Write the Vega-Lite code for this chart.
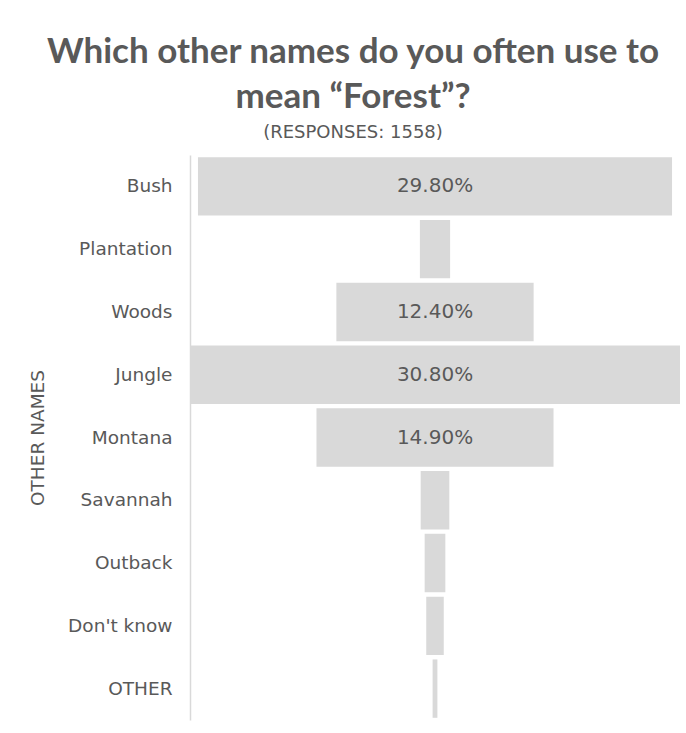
{
  "$schema": "https://vega.github.io/schema/vega-lite/v6.json",
  "width": 490,
  "height": 565,
  "autosize": {"type": "none"},
  "padding": {"left": 190, "top": 155, "right": 6, "bottom": 13},
  "background": "white",
  "title": {
    "text": ["Which other names do you often use to", "mean “Forest”?"],
    "subtitle": "(RESPONSES: 1558)",
    "font": "Lato",
    "fontSize": 35,
    "fontWeight": "bold",
    "color": "#595959",
    "lineHeight": 45,
    "subtitleFont": "DejaVu Sans",
    "subtitleFontSize": 18,
    "subtitleColor": "#595959",
    "subtitlePadding": 9,
    "anchor": "middle",
    "dx": -82,
    "offset": 13
  },
  "data": {
    "values": [
      {"name": "Bush", "share": 0.298},
      {"name": "Plantation", "share": 0.019},
      {"name": "Woods", "share": 0.124},
      {"name": "Jungle", "share": 0.308},
      {"name": "Montana", "share": 0.149},
      {"name": "Savannah", "share": 0.018},
      {"name": "Outback", "share": 0.013},
      {"name": "Don't know", "share": 0.011},
      {"name": "OTHER", "share": 0.003}
    ]
  },
  "encoding": {
    "y": {
      "field": "name",
      "type": "nominal",
      "sort": null,
      "scale": {"paddingInner": 0.07, "paddingOuter": 0.035},
      "axis": {
        "title": "OTHER NAMES",
        "titleFont": "DejaVu Sans",
        "titleFontSize": 18.5,
        "titleFontWeight": "normal",
        "titleColor": "#595959",
        "titlePadding": 20,
        "labelFont": "DejaVu Sans",
        "labelFontSize": 18.5,
        "labelColor": "#595959",
        "labelPadding": 18,
        "ticks": false,
        "domainColor": "#d9d9d9",
        "domainWidth": 1.5,
        "grid": false
      }
    }
  },
  "layer": [
    {
      "mark": {"type": "bar", "color": "#d9d9d9"},
      "encoding": {
        "x": {
          "field": "share",
          "type": "quantitative",
          "stack": "center",
          "scale": {"domain": [0, 0.308], "nice": false, "zero": false},
          "axis": null
        }
      }
    },
    {
      "transform": [{"filter": "datum.share > 0.05"}],
      "mark": {"type": "text", "font": "DejaVu Sans", "fontSize": 20, "color": "#595959"},
      "encoding": {
        "x": {"datum": 0.154, "type": "quantitative"},
        "text": {"field": "share", "type": "quantitative", "format": ".2%"}
      }
    }
  ],
  "config": {"view": {"stroke": null}}
}
